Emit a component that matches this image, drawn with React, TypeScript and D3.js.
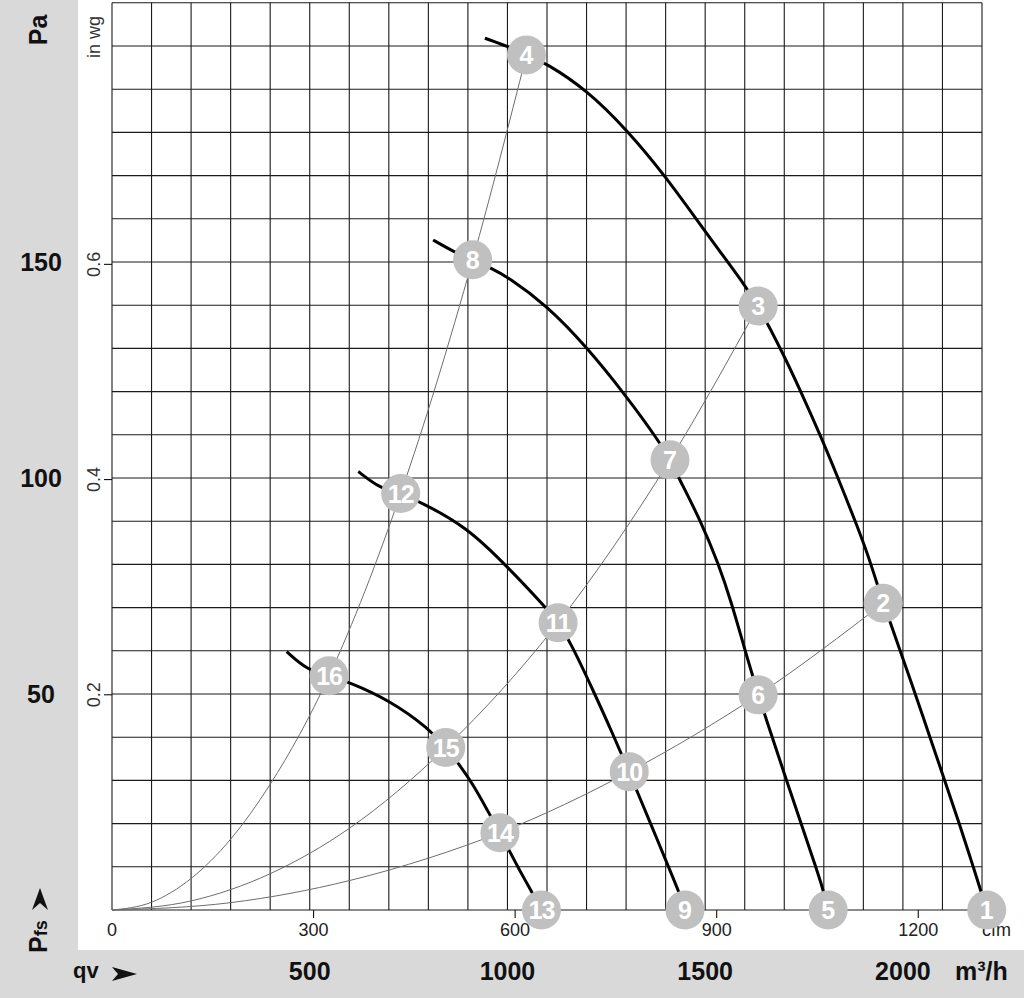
import React from "react";
import * as d3 from "d3";

// ---- Data ----
// Axis ticks
const flowTicksM3h = [500, 1000, 1500, 2000];
const flowTicksCfm = [0, 300, 600, 900, 1200];
const pressureTicksPa = [50, 100, 150];
const pressureTicksInwg = [0.2, 0.4, 0.6];

// Fan characteristic curves [q m3/h, p Pa]
const curve1to4: [number, number][] = [
  [943, 201.8], [998, 200], [1048, 197.9], [1097, 196.1], [1201, 189.8], [1302, 180.6],
  [1401, 169.7], [1497, 157.4], [1606, 144.0], [1634, 139.8], [1693, 129.6], [1744, 119.6],
  [1794, 109.3], [1836, 100.0], [1887, 88.3], [1917, 80.8], [1950, 71.0], [1967, 66.9],
  [1997, 59.0], [2035, 49.0], [2068, 40.1], [2106, 29.9], [2144, 19.6], [2178, 10.0], [2212, 0],
];
const curve5to8: [number, number][] = [
  [812, 155.1], [863, 152.4], [912, 150.5], [960, 148.5], [999.5, 146.6], [1099, 140.0],
  [1200, 130.4], [1301, 118.9], [1381, 108.8], [1411, 104.2], [1434, 99.9], [1489, 90.0],
  [1533, 80.3], [1567, 71.0], [1598, 61.0], [1634, 49.8], [1654, 44.3], [1671, 39.6],
  [1707, 29.6], [1745, 19.4], [1781, 9.6], [1796, 5.4], [1811, 0],
];
const curve9to12: [number, number][] = [
  [622.8, 101.5], [677.6, 97.6], [730, 96.4], [778.8, 94.5], [896.9, 88.7], [999.5, 79.5],
  [1099, 69.8], [1128, 66.5], [1158, 62.2], [1217, 50.8], [1267.5, 40.5], [1308, 32.0],
  [1327, 27.6], [1365, 19.4], [1407, 10.0], [1432, 4.6], [1449, 0],
];
const curve13to16: [number, number][] = [
  [441.7, 59.8], [492.3, 55.6], [549, 54.2], [597.5, 52.8], [701.1, 48.6], [801.5, 42.0],
  [844, 37.6], [879.9, 33.5], [913.5, 29.0], [951.5, 22.7], [981, 17.9], [1006, 13.5],
  [1027, 9.8], [1065, 3.6], [1086, 0],
];

// System resistance curves [q m3/h, p Pa]
const systemTo4: [number, number][] = [
  [0, 0], [100, 1.8], [200, 7.3], [300, 16.4], [400, 29.1], [549, 54.2], [730, 96.4], [912, 150.5], [1048, 197.9],
];
const systemTo3: [number, number][] = [
  [0, 0], [200, 2.1], [400, 8.4], [600, 18.9], [844, 37.6], [1128, 66.5], [1411, 104.2], [1634, 139.8],
];
const systemTo2: [number, number][] = [
  [0, 0], [300, 1.7], [600, 6.8], [800, 12.0], [981, 17.9], [1308, 32.0], [1634, 49.8], [1950, 71.0],
];

// Operating point markers
const markerIds = [1, 2, 3, 4, 5, 6, 7, 8, 9, 10, 11, 12, 13, 14, 15, 16];
const markerQ = [2212, 1950, 1634, 1048, 1811, 1634, 1411, 912, 1449, 1308, 1128, 730, 1086, 981, 844, 549];
const markerP = [0, 71.0, 139.8, 197.9, 0, 49.8, 104.2, 150.5, 0, 32.0, 66.5, 96.4, 0, 17.9, 37.6, 54.2];

const CFM_TO_M3H = 1.69901;
const INWG_TO_PA = 249.089;

export default function App() {
  const W = 1024;
  const H = 998;
  const x = d3.scaleLinear().domain([0, 2200]).range([112, 982]);
  const y = d3.scaleLinear().domain([0, 210]).range([910, 2.8]);

  const sysLine = d3
    .line<[number, number]>()
    .x((d) => x(d[0]))
    .y((d) => y(d[1]))
    .curve(d3.curveMonotoneX);

  const fanLine = d3
    .line<[number, number]>()
    .x((d) => x(d[0]))
    .y((d) => y(d[1]))
    .curve(d3.curveBasis);

  const vGrid = d3.range(0, 2201, 100);
  const hGrid = d3.range(0, 211, 10);
  const font = "'Liberation Sans', Arial, Helvetica, sans-serif";
  const gray = "#d9d9d9";

  return (
    <svg
      width={W}
      height={H}
      style={{ position: "absolute", left: 0, top: 0, display: "block" }}
      fontFamily={font}
    >
      <rect x={0} y={0} width={W} height={H} fill={gray} />
      <rect x={78} y={0} width={W - 78} height={950} fill="#ffffff" />

      {/* grid */}
      <g stroke="#1a1a1a" strokeWidth={1.1}>
        {vGrid.map((v) => (
          <line key={"v" + v} x1={x(v)} x2={x(v)} y1={y(210)} y2={y(0)} />
        ))}
        {hGrid.map((v) => (
          <line key={"h" + v} x1={x(0)} x2={x(2200)} y1={y(v)} y2={y(v)} />
        ))}
      </g>

      {/* in wg ticks */}
      <g>
        {pressureTicksInwg.map((v) => {
          const yy = y(v * INWG_TO_PA);
          return (
            <g key={"iw" + v}>
              <line x1={104} x2={112} y1={yy} y2={yy} stroke="#111" strokeWidth={1.1} />
              <text
                transform={`translate(100,${yy}) rotate(-90)`}
                textAnchor="middle"
                fontSize={18}
                fill="#333"
              >
                {v.toFixed(1)}
              </text>
            </g>
          );
        })}
        <text transform="translate(100,58) rotate(-90)" fontSize={18} fill="#333">
          in wg
        </text>
      </g>

      {/* cfm ticks */}
      <g>
        {flowTicksCfm.map((v) => {
          const xx = x(v * CFM_TO_M3H);
          return (
            <g key={"cf" + v}>
              {v > 0 && <line x1={xx} x2={xx} y1={910} y2={918} stroke="#111" strokeWidth={1.1} />}
              <text x={xx} y={936} textAnchor="middle" fontSize={18} fill="#222">
                {v}
              </text>
            </g>
          );
        })}
        <text x={982} y={936} fontSize={18} fill="#222">
          cfm
        </text>
      </g>

      {/* system curves */}
      <g fill="none" stroke="#6e6e6e" strokeWidth={1}>
        <path d={sysLine(systemTo4) || ""} />
        <path d={sysLine(systemTo3) || ""} />
        <path d={sysLine(systemTo2) || ""} />
      </g>

      {/* fan curves */}
      <g fill="none" stroke="#000" strokeWidth={3} strokeLinecap="butt">
        <path d={fanLine(curve1to4) || ""} />
        <path d={fanLine(curve5to8) || ""} />
        <path d={fanLine(curve9to12) || ""} />
        <path d={fanLine(curve13to16) || ""} />
      </g>

      {/* markers */}
      <g>
        {markerIds.map((id, i) => (
          <g key={"m" + id} transform={`translate(${x(markerQ[i])},${y(markerP[i])})`}>
            <circle r={19.5} fill="#c0c0c0" />
            <text
              textAnchor="middle"
              dy="0.36em"
              fontSize={25}
              fontWeight="bold"
              fill="#ffffff"
              letterSpacing={id >= 10 ? -1 : 0}
            >
              {id}
            </text>
          </g>
        ))}
      </g>

      {/* left panel labels */}
      <g fontWeight="bold" fill="#111">
        <text transform="translate(47,30) rotate(-90)" textAnchor="middle" fontSize={25}>
          Pa
        </text>
        {pressureTicksPa.map((v) => (
          <text key={"pa" + v} x={41} y={y(v) + 9} textAnchor="middle" fontSize={25}>
            {v}
          </text>
        ))}
        <text transform="translate(47,953) rotate(-90)" fontSize={25}>
          P<tspan fontSize={18}>fs</tspan>
        </text>
        <path d="M40,888 L48,910 L40,903 L32,910 Z" fill="#111" />
      </g>

      {/* bottom band labels */}
      <g fontWeight="bold" fill="#111">
        <text x={73} y={978} fontSize={22}>
          qv
        </text>
        <path d="M137,974 L112,967 L118,974 L112,981 Z" fill="#111" />
        {flowTicksM3h.map((v) => (
          <text key={"q" + v} x={x(v)} y={980} textAnchor="middle" fontSize={25}>
            {v}
          </text>
        ))}
        <text x={955} y={980} fontSize={25}>
          m³/h
        </text>
      </g>
    </svg>
  );
}
